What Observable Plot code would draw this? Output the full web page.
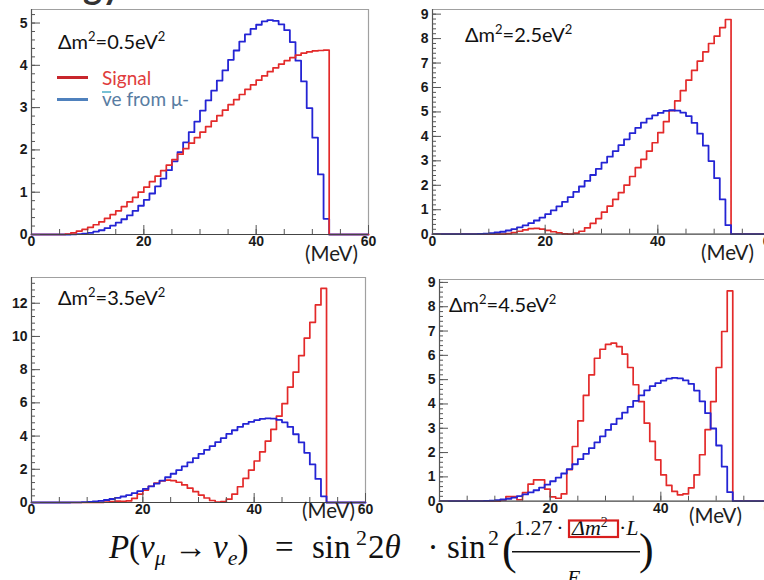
<!DOCTYPE html>
<html>
<head>
<meta charset="utf-8">
<script src="https://cdn.jsdelivr.net/npm/d3@7"></script>
<script src="https://cdn.jsdelivr.net/npm/@observablehq/plot@0.6"></script>
<style>
  html, body { margin:0; padding:0; background:#fff; }
  body { width:764px; height:580px; overflow:hidden; position:relative; }
  .panel { position:absolute; }
  #overlay { position:absolute; left:0; top:0; pointer-events:none; }
</style>
</head>
<body>
<script>
// ---------------- data (1 MeV bins, 0–60 MeV) ----------------
const binLowEdgesMeV = [0,1,2,3,4,5,6,7,8,9,10,11,12,13,14,15,16,17,18,19,20,21,22,23,24,25,26,27,28,29,
  30,31,32,33,34,35,36,37,38,39,40,41,42,43,44,45,46,47,48,49,50,51,52,53,54,55,56,57,58,59];

// anti-nu_e from mu- background (same in every panel)
const nuebarFromMuMinus = [0,0,0,0,0,0,0,
  0.005,0.01,0.02,0.04,0.07,0.10,0.15,0.21,0.28,0.36,0.45,0.56,0.68,
  0.82,0.97,1.14,1.32,1.52,1.73,1.95,2.18,2.42,2.67,
  2.93,3.17,3.40,3.64,3.88,4.13,4.35,4.56,4.73,4.86,
  4.96,5.04,5.07,5.05,4.97,4.83,4.55,4.11,3.62,2.99,
  2.29,1.42,0.37,0,0,0,0,0,0,0];

const signalDm05 = [0,0,0,0,0,0,
  0.01,0.04,0.08,0.12,0.17,0.23,0.30,0.38,0.47,0.56,0.66,0.77,0.88,1.00,
  1.12,1.25,1.38,1.51,1.64,1.77,1.90,2.03,2.16,2.29,
  2.42,2.55,2.68,2.81,2.94,3.07,3.19,3.31,3.43,3.54,
  3.65,3.75,3.85,3.94,4.03,4.11,4.18,4.24,4.29,4.32,
  4.34,4.35,4.36,0,0,0,0,0,0,0];

const signalDm25 = [0,0,0,0,0,0,0,0,0,0,0,0,0,
  0.02,0.06,0.12,0.18,0.23,0.24,0.21,
  0.16,0.10,0.05,0.015,0.0,0.04,0.12,0.26,0.44,0.64,
  0.90,1.15,1.42,1.70,2.01,2.36,2.72,3.06,3.40,3.74,
  4.15,4.60,5.05,5.45,5.87,6.30,6.70,7.08,7.46,7.80,
  8.10,8.45,8.78,0,0,0,0,0,0,0];

const signalDm35 = [0,0,0,0,0,0,0,0,0,0,0,0,
  0.01,0.03,0.06,0.08,0.07,0.10,0.25,0.50,
  0.75,0.98,1.17,1.30,1.35,1.32,1.22,1.06,0.86,0.65,
  0.45,0.27,0.12,0.03,0.05,0.20,0.50,0.95,1.45,1.95,
  2.50,3.05,3.70,4.40,5.20,5.95,6.95,7.85,8.85,9.90,
  10.85,11.90,12.90,0,0,0,0,0,0,0];

const signalDm45 = [0,0,0,0,0,0,0,0,0,0,0,
  0.05,0.19,0.19,0.06,0.35,0.70,0.88,0.88,0.50,
  0.18,0.12,0.30,1.30,2.25,3.30,4.35,5.20,5.88,6.25,
  6.45,6.50,6.36,6.05,5.50,4.79,4.10,3.21,2.46,1.70,
  1.08,0.65,0.40,0.26,0.30,0.55,1.08,1.91,2.94,4.10,
  5.50,6.98,8.65,0,0,0,0,0,0,0];

const deltaM2Values = ["0.5","2.5","3.5","4.5"];
const xTickLabels = [0,20,40,60];
const xMinorTicks = [0,5,10,15,20,25,30,35,40,45,50,55,60];
const yTicksDm05 = [0,1,2,3,4,5];
const yTicksDm25 = [0,1,2,3,4,5,6,7,8,9];
const yTicksDm35 = [0,2,4,6,8,10,12];
const yTicksDm45 = [0,1,2,3,4,5,6,7,8,9];
const legendLabels = ["Signal", "ve from \u03bc-"];

// ---------------- styling / layout ----------------
const RED = "#e32a2a", BLUE = "#2424d4";
const tickFont = {fontFamily:"'Liberation Sans', Arial, sans-serif", fontSize:14, fontWeight:"bold"};
const panels = [
  {signal: signalDm05, dm: deltaM2Values[0], fx:[31,368], fy:[9,234], ymax:5.32, yTicks:yTicksDm05, minorStep:0.2, redTop:true,
   label:[58,49], mev:[305,261]},
  {signal: signalDm25, dm: deltaM2Values[1], fx:[431.5,769.5], fy:[9.3,234], ymax:9.19, yTicks:yTicksDm25, minorStep:0.2, redTop:false,
   label:[465,42], mev:[701,259.5]},
  {signal: signalDm35, dm: deltaM2Values[2], fx:[31,365], fy:[276.7,501.7], ymax:13.55, yTicks:yTicksDm35, minorStep:0.4, redTop:false,
   label:[58,305], mev:[302,518]},
  {signal: signalDm45, dm: deltaM2Values[3], fx:[438.5,770.5], fy:[279.3,501], ymax:9.12, yTicks:yTicksDm45, minorStep:0.2, redTop:false,
   label:[449,311.5], mev:[689,523]}
];

function histSteps(vals) {
  const pts = vals.map((v, i) => ({e: binLowEdgesMeV[i], n: v}));
  pts.push({e: 60, n: vals[vals.length - 1]});
  return pts;
}

const mL = 40, mR = 14, mT = 6, mB = 30;

panels.forEach(p => {
  const w = (p.fx[1] - p.fx[0]) + mL + mR;
  const h = (p.fy[1] - p.fy[0]) + mT + mB;
  const n = Math.floor(p.ymax / p.minorStep + 1e-6);
  const yMinor = d3.range(0, n + 1).map(i => +(i * p.minorStep).toFixed(3));
  const blueLine = Plot.line(histSteps(nuebarFromMuMinus), {x:"e", y:"n", curve:"step-after", stroke:BLUE, strokeWidth:1.8});
  const redLine = Plot.line(histSteps(p.signal), {x:"e", y:"n", curve:"step-after", stroke:RED, strokeWidth:1.7});
  const chart = Plot.plot({
    width: w, height: h,
    marginLeft: mL, marginRight: mR, marginTop: mT, marginBottom: mB,
    x: {domain:[0,60], axis:null},
    y: {domain:[0,p.ymax], axis:null},
    style: {fontFamily:"'Liberation Sans', Arial, sans-serif", fontSize:"14px", fontWeight:"bold", color:"#1a1a1a", background:"transparent", overflow:"visible"},
    marks: [
      Plot.ruleY([p.ymax], {stroke:"#a0a0a0", strokeWidth:1.2}),
      Plot.ruleX([60], {stroke:"#a0a0a0", strokeWidth:1.2}),
      p.redTop ? blueLine : redLine,
      p.redTop ? redLine : blueLine,
      Plot.ruleY([0], {stroke:"#444", strokeWidth:1.2}),
      Plot.ruleX([0], {stroke:"#555", strokeWidth:1.2}),
      Plot.axisY({ticks: yMinor, tickSize:-4, fill:"none", label:null, stroke:"#555"}),
      Plot.axisY({ticks: p.yTicks, tickSize:-9, fill:"none", label:null, stroke:"#555"}),
      Plot.axisY({ticks: p.yTicks, tickSize:0, tickPadding:4, label:null, fill:"#1a1a1a", tickFormat: d => String(d), ...tickFont}),
      Plot.axisX({ticks: xMinorTicks, tickSize:-5, fill:"none", label:null, stroke:"#555"}),
      Plot.axisX({ticks: xTickLabels, tickSize:-9, fill:"none", label:null, stroke:"#555"}),
      Plot.axisX({ticks: xTickLabels, tickSize:0, tickPadding:2, label:null, fill:"#1a1a1a", tickFormat: d => String(d), ...tickFont})
    ]
  });
  chart.classList.add("panel");
  chart.style.left = (p.fx[0] - mL) + "px";
  chart.style.top = (p.fy[0] - mT) + "px";
  document.body.appendChild(chart);
});

// ---------------- text overlay ----------------
const svg = d3.select("body").append("svg").attr("id","overlay").attr("width",764).attr("height",580);
const sans = "Lato, 'Open Sans', sans-serif";

// bottom of the slide title, cut off by the top edge
svg.append("text").attr("x",83).attr("y",-1).attr("font-family",sans).attr("font-weight","bold")
  .attr("font-size",36).attr("fill","#333").text("gy");

panels.forEach(p => {
  const t = svg.append("text").attr("x", p.label[0]).attr("y", p.label[1])
    .attr("font-family", sans).attr("font-size", 20).attr("fill", "#111");
  t.append("tspan").text("\u0394m");
  t.append("tspan").attr("font-size", 13).attr("dy", -8).text("2");
  t.append("tspan").attr("dy", 8).text("=" + p.dm + "eV");
  t.append("tspan").attr("font-size", 13).attr("dy", -8).text("2");
  svg.append("text").attr("x", p.mev[0]).attr("y", p.mev[1])
    .attr("font-family", sans).attr("font-size", 20.5).attr("fill", "#1e1e1e").text("(MeV)");
});

// legend (panel 1)
svg.append("line").attr("x1",57).attr("x2",88).attr("y1",77.5).attr("y2",77.5).attr("stroke","#c8262c").attr("stroke-width",3);
svg.append("line").attr("x1",57).attr("x2",88).attr("y1",99.5).attr("y2",99.5).attr("stroke","#4f81bd").attr("stroke-width",3);
svg.append("text").attr("x",102).attr("y",85).attr("font-family",sans).attr("font-size",19).attr("fill","#e03c3c").text(legendLabels[0]);
svg.append("text").attr("x",102).attr("y",106).attr("font-family",sans).attr("font-size",19).attr("fill","#587ca2").text(legendLabels[1]);
svg.append("line").attr("x1",102).attr("x2",111).attr("y1",92).attr("y2",92).attr("stroke","#4bacc6").attr("stroke-width",1.5);

// formula  P(nu_mu -> nu_e) = sin^2 2theta . sin^2(1.27 dm^2 L / E_nu)
const serif = "'Liberation Serif', 'DejaVu Serif', serif";
const fs = 33, sub = 22;
function piece(x, anchor) {
  return svg.append("text").attr("x", x).attr("y", 558).attr("text-anchor", anchor || "start")
    .attr("font-family", serif).attr("font-size", fs).attr("fill", "#111");
}
const p1 = piece(207, "end");
p1.append("tspan").attr("font-style","italic").text("P");
p1.append("tspan").text("(");
p1.append("tspan").attr("font-style","italic").text("\u03bd");
p1.append("tspan").attr("font-style","italic").attr("font-size",sub).attr("dy",7).text("\u03bc");
p1.append("tspan").attr("dy",-7).text(" \u2192");
const p2 = piece(213);
p2.append("tspan").attr("font-style","italic").text("\u03bd");
p2.append("tspan").attr("font-style","italic").attr("font-size",sub).attr("dy",7).text("e");
p2.append("tspan").attr("dy",-7).text(")");
piece(275).text("=");
piece(312).text("sin");
piece(356).attr("font-size",sub).attr("y",545).text("2");
const p3 = piece(368);
p3.append("tspan").text("2");
p3.append("tspan").attr("font-style","italic").text("\u03b8");
piece(433, "middle").text("\u00b7");
piece(447).text("sin");
piece(488).attr("font-size",sub).attr("y",545).text("2");

svg.append("text").attr("x",502).attr("y",564).attr("font-family",serif).attr("font-size",44).attr("fill","#111").text("(");
svg.append("text").attr("x",639).attr("y",564).attr("font-family",serif).attr("font-size",44).attr("fill","#111").text(")");

const num = svg.append("g").attr("font-family", serif).attr("font-size", 22).attr("fill", "#111");
num.append("text").attr("x",514).attr("y",535).text("1.27");
num.append("text").attr("x",560).attr("y",535).attr("text-anchor","middle").text("\u00b7");
const dm = num.append("text").attr("x",572).attr("y",535);
dm.append("tspan").attr("font-style","italic").text("\u0394m");
dm.append("tspan").attr("font-size",14).attr("dy",-8).text("2");
const dl = num.append("text").attr("x",619).attr("y",535);
dl.append("tspan").text("\u00b7");
dl.append("tspan").attr("font-style","italic").text("L");
svg.append("rect").attr("x",569).attr("y",520.5).attr("width",49).attr("height",16.5)
  .attr("fill","none").attr("stroke","#d81e1e").attr("stroke-width",2.2);
svg.append("line").attr("x1",512).attr("x2",640).attr("y1",551.7).attr("y2",551.7).attr("stroke","#111").attr("stroke-width",1.4);
const den = svg.append("text").attr("x",567).attr("y",585).attr("font-family",serif).attr("font-size",22).attr("fill","#111");
den.append("tspan").attr("font-style","italic").text("E");
den.append("tspan").attr("font-style","italic").attr("font-size",16).attr("dy",5).text("\u03bd");
</script>
</body>
</html>
